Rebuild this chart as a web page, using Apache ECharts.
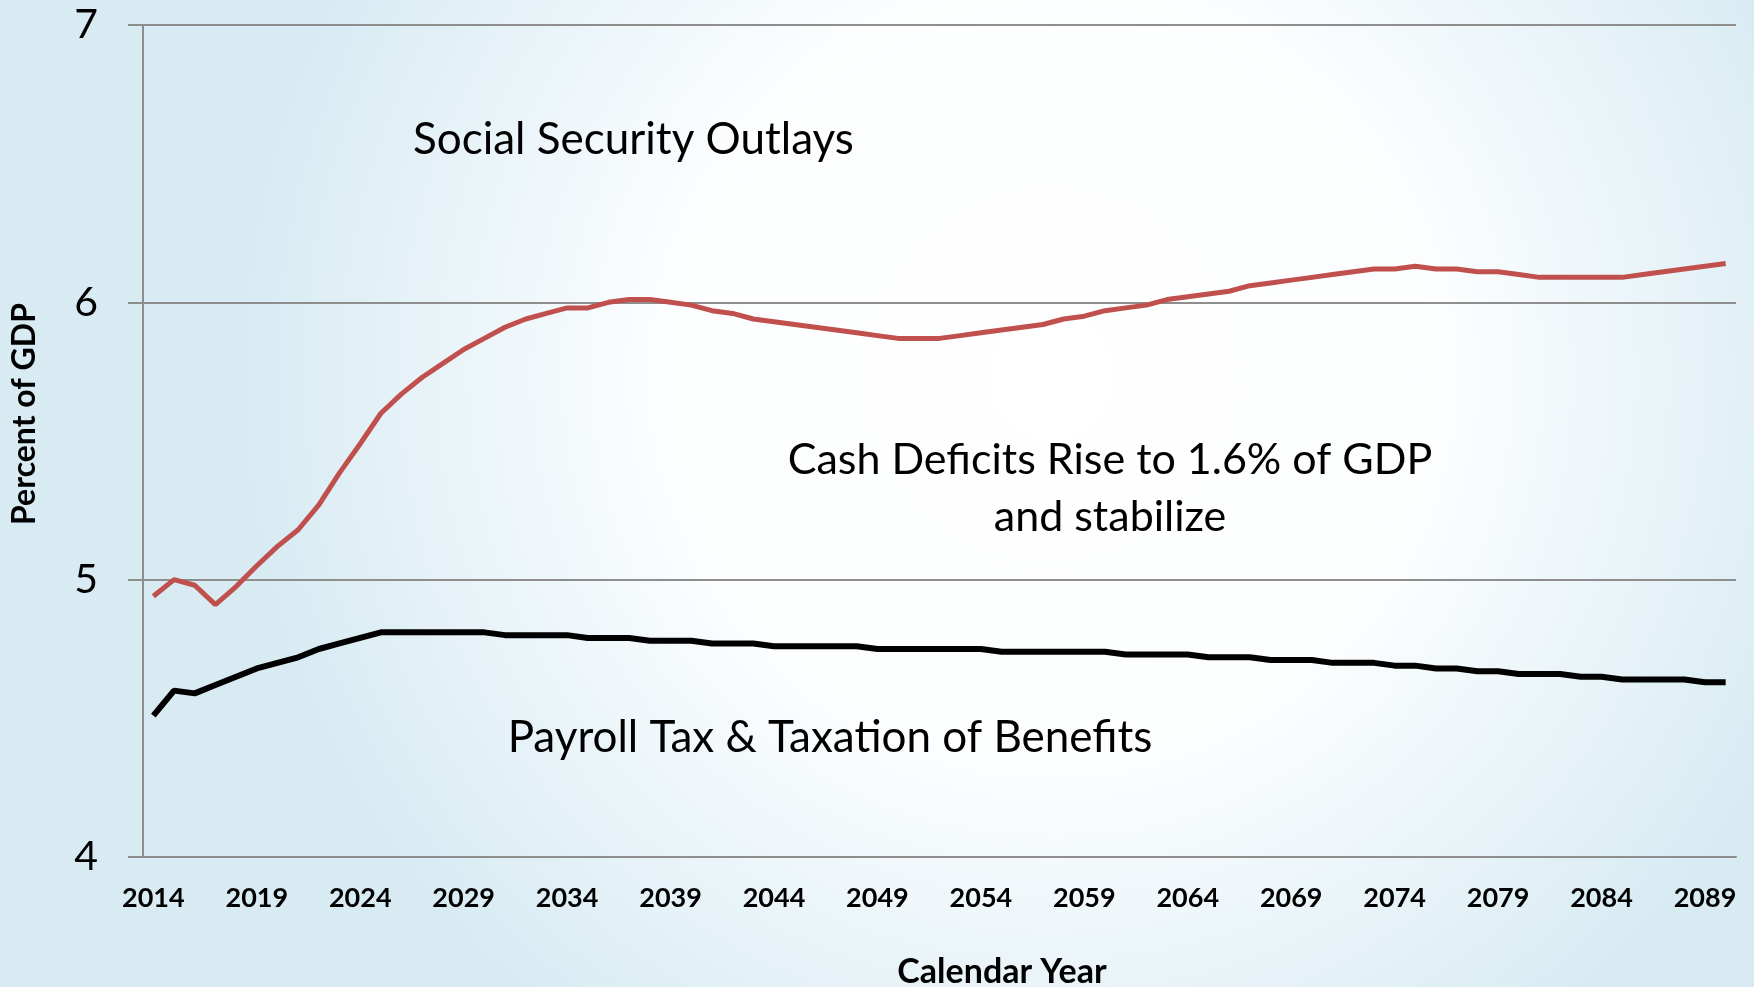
<!DOCTYPE html>
<html>
<head>
<meta charset="utf-8">
<script src="https://cdn.jsdelivr.net/npm/echarts@6/dist/echarts.min.js"></script>
<style>
  html, body { margin: 0; padding: 0; }
  #chart { width: 1754px; height: 987px; }
</style>
</head>
<body>
<div id="chart"></div>
<script>
// Calendar years 2014-2090
const years = [];
for (let y = 2014; y <= 2090; y++) years.push(String(y));

// Social Security outlays, percent of GDP
const outlays = [
  4.94, 5.00, 4.98, 4.91, 4.975, 5.05, 5.12, 5.18, 5.27, 5.385,
  5.49, 5.60, 5.67, 5.73, 5.78, 5.83, 5.87, 5.91, 5.94, 5.96,
  5.98, 5.98, 6.00, 6.01, 6.01, 6.00, 5.99, 5.97, 5.96, 5.94,
  5.93, 5.92, 5.91, 5.90, 5.89, 5.88, 5.87, 5.87, 5.87, 5.88,
  5.89, 5.90, 5.91, 5.92, 5.94, 5.95, 5.97, 5.98, 5.99, 6.01,
  6.02, 6.03, 6.04, 6.06, 6.07, 6.08, 6.09, 6.10, 6.11, 6.12,
  6.12, 6.13, 6.12, 6.12, 6.11, 6.11, 6.10, 6.09, 6.09, 6.09,
  6.09, 6.09, 6.10, 6.11, 6.12, 6.13, 6.14
];

// Payroll tax & taxation of benefits, percent of GDP
const income = [
  4.51, 4.60, 4.59, 4.62, 4.65, 4.68, 4.70, 4.72, 4.75, 4.77,
  4.79, 4.81, 4.81, 4.81, 4.81, 4.81, 4.81, 4.80, 4.80, 4.80,
  4.80, 4.79, 4.79, 4.79, 4.78, 4.78, 4.78, 4.77, 4.77, 4.77,
  4.76, 4.76, 4.76, 4.76, 4.76, 4.75, 4.75, 4.75, 4.75, 4.75,
  4.75, 4.74, 4.74, 4.74, 4.74, 4.74, 4.74, 4.73, 4.73, 4.73,
  4.73, 4.72, 4.72, 4.72, 4.71, 4.71, 4.71, 4.70, 4.70, 4.70,
  4.69, 4.69, 4.68, 4.68, 4.67, 4.67, 4.66, 4.66, 4.66, 4.65,
  4.65, 4.64, 4.64, 4.64, 4.64, 4.63, 4.63
];

const yMin = 4, yMax = 7, yStep = 1;

const FONT = 'Lato, "Liberation Sans", sans-serif';
const GRID_GRAY = '#8e8e8e';

const chart = echarts.init(document.getElementById('chart'), null, { renderer: 'canvas' });

chart.setOption({
  backgroundColor: {
    type: 'radial', x: 0.6, y: 0.38, r: 0.82,
    colorStops: [
      { offset: 0, color: '#ffffff' },
      { offset: 0.5, color: '#fbfdfe' },
      { offset: 1, color: '#d8ebf3' }
    ]
  },
  animation: false,
  grid: { left: 143, right: 18, top: 25, bottom: 130 },
  xAxis: {
    type: 'category',
    data: years,
    boundaryGap: true,
    axisLine: { show: true, lineStyle: { color: GRID_GRAY, width: 2 } },
    axisTick: { show: false },
    axisLabel: {
      interval: 4,
      margin: 28,
      color: '#000',
      fontFamily: FONT,
      fontWeight: 'bold',
      fontSize: 27
    },
    splitLine: { show: false }
  },
  yAxis: {
    type: 'value',
    min: yMin, max: yMax, interval: yStep,
    axisLine: { show: true, lineStyle: { color: GRID_GRAY, width: 2 } },
    axisTick: { show: true, length: 15, lineStyle: { color: GRID_GRAY, width: 2 } },
    axisLabel: { margin: 45, color: '#000', fontFamily: FONT, fontSize: 41 },
    splitLine: { show: true, lineStyle: { color: GRID_GRAY, width: 2 } }
  },
  series: [
    {
      name: 'Social Security Outlays',
      type: 'line',
      data: outlays,
      symbol: 'none',
      lineStyle: { color: '#c0504d', width: 5 },
      z: 3
    },
    {
      name: 'Payroll Tax & Taxation of Benefits',
      type: 'line',
      data: income,
      symbol: 'none',
      lineStyle: { color: '#000000', width: 6 },
      z: 4
    }
  ],
  graphic: [
    {
      type: 'text', left: 413, top: 118,
      style: { text: 'Social Security Outlays', fill: '#000', font: '44px ' + FONT }
    },
    {
      type: 'text', x: 1110, y: 432,
      style: {
        text: 'Cash Deficits Rise to 1.6% of GDP\nand stabilize',
        fill: '#000', font: '43px ' + FONT, textAlign: 'center', lineHeight: 57
      }
    },
    {
      type: 'text', x: 830, y: 716,
      style: {
        text: 'Payroll Tax & Taxation of Benefits',
        fill: '#000', font: '44px ' + FONT, textAlign: 'center'
      }
    },
    {
      // y-axis title
      type: 'text', x: 25, y: 414, rotation: Math.PI / 2,
      style: {
        text: 'Percent of GDP', fill: '#000',
        font: 'bold 32px ' + FONT, textAlign: 'center', textVerticalAlign: 'middle'
      }
    },
    {
      // x-axis title
      type: 'text', x: 1002, y: 955,
      style: {
        text: 'Calendar Year', fill: '#000',
        font: 'bold 34px ' + FONT, textAlign: 'center'
      }
    }
  ]
});
</script>
</body>
</html>
